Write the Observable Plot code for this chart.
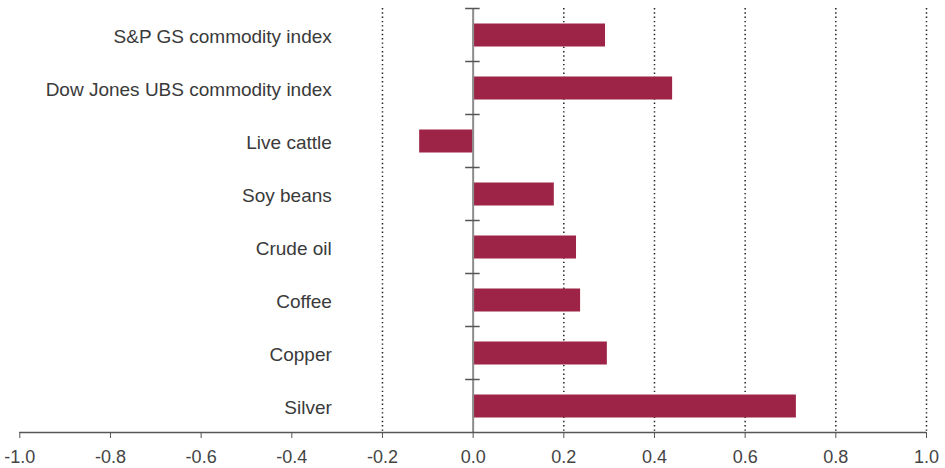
<!DOCTYPE html>
<html>
<head>
<meta charset="utf-8">
<script src="https://cdn.jsdelivr.net/npm/d3@7"></script>
<script src="https://cdn.jsdelivr.net/npm/@observablehq/plot@0.6"></script>
<style>
  html, body { margin: 0; padding: 0; background: #fff; }
  #chart { width: 945px; height: 468px; }
</style>
</head>
<body>
<div id="chart"></div>
<script>
const categories = [
  "S&P GS commodity index",
  "Dow Jones UBS commodity index",
  "Live cattle",
  "Soy beans",
  "Crude oil",
  "Coffee",
  "Copper",
  "Silver"
];
const values = [0.292, 0.44, -0.118, 0.179, 0.228, 0.237, 0.296, 0.713];
const xTicks = [-1.0, -0.8, -0.6, -0.4, -0.2, 0.0, 0.2, 0.4, 0.6, 0.8, 1.0];
const gridTicks = [-0.2, 0.2, 0.4, 0.6, 0.8, 1.0];

const data = categories.map((c, i) => ({category: c, value: values[i]}));
const barColor = "#9e2447";
const fmt = d => d3.format(".1f")(d).replace("\u2212", "-");

const chart = Plot.plot({
  width: 945,
  height: 468,
  marginLeft: 19.3,
  marginRight: 19,
  marginTop: 8,
  marginBottom: 36,
  style: {fontFamily: "'Liberation Sans', Arial, sans-serif", fontSize: "18px", color: "#3a3a3a", background: "#fff"},
  x: {domain: [d3.min(xTicks), d3.max(xTicks)], ticks: xTicks, label: null},
  y: {domain: categories, padding: 0, label: null},
  marks: [
    Plot.ruleX(gridTicks, {stroke: "#222", strokeWidth: 1.5, strokeDasharray: "1.4,2.9"}),
    Plot.barX(data, {x: "value", y: "category", fill: barColor, insetTop: 15.5, insetBottom: 14.5}),
    Plot.ruleX([0], {stroke: "#8c8c8c", strokeWidth: 2}),
    Plot.ruleY(categories, {x1: 0, x2: 0, insetLeft: -7.5, insetRight: -7, dy: -26.5, stroke: "#555", strokeWidth: 1.5}),
    Plot.ruleY([categories[categories.length - 1]], {x1: d3.min(xTicks), x2: d3.max(xTicks), dy: 26.5, stroke: "#555", strokeWidth: 1.3}),
    Plot.axisX({anchor: "bottom", ticks: xTicks, tickSize: 6, tickPadding: 12, stroke: "#555", fill: "#444", fontSize: 18, tickFormat: fmt, label: null}),
    Plot.axisY({anchor: "left", tickSize: 0, tickPadding: 0, dx: 312, dy: 1.5, fill: "#3a3a3a", fontSize: 19, label: null})
  ]
});
document.getElementById("chart").appendChild(chart);
</script>
</body>
</html>
